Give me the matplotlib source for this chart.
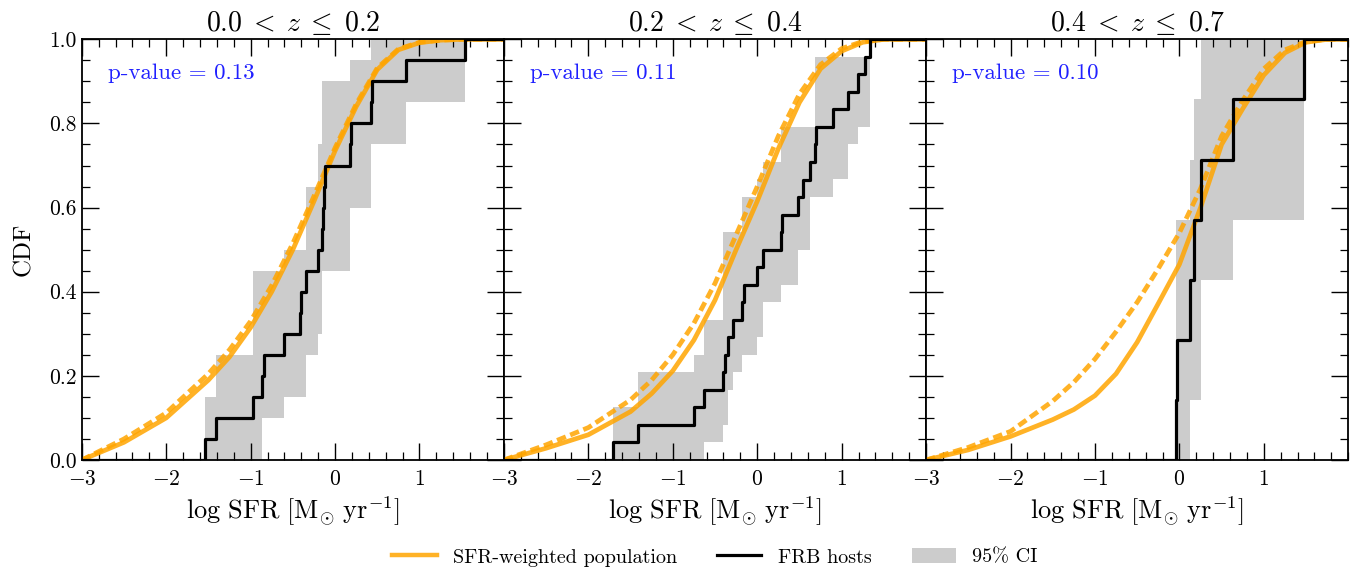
import numpy as np
import matplotlib
matplotlib.use("Agg")
import matplotlib.pyplot as plt
from matplotlib.lines import Line2D
from matplotlib.patches import Patch
from matplotlib.ticker import MultipleLocator

plt.rcParams['font.family'] = 'serif'
plt.rcParams['font.serif'] = ['cmr10', 'DejaVu Serif']
plt.rcParams['mathtext.fontset'] = 'cm'
plt.rcParams['axes.formatter.use_mathtext'] = True

# redshift bins
titles = [r'$0.0\;<\;z\;\leq\;0.2$', r'$0.2\;<\;z\;\leq\;0.4$', r'$0.4\;<\;z\;\leq\;0.7$']
pvalues = ['0.13', '0.11', '0.10']

# FRB host log SFR (sorted)
hosts1 = [-1.535, -1.41, -0.97, -0.866, -0.84, -0.61, -0.413, -0.40, -0.34, -0.206,
          -0.16, -0.14, -0.13, -0.12, 0.18, 0.19, 0.43, 0.44, 0.84, 1.535]
hosts2 = [-1.71, -1.41, -0.745, -0.63, -0.41, -0.385, -0.345, -0.285, -0.185, -0.155,
          -0.005, 0.07, 0.285, 0.29, 0.485, 0.54, 0.625, 0.685, 0.695, 0.90,
          1.075, 1.19, 1.28, 1.34]
hosts3 = [-0.04, -0.03, 0.12, 0.175, 0.25, 0.64, 1.475]

# 95% CI band (value after each host)
ci_lo1 = [0, 0, 0, .10, .10, .15, .15, .15, .25, .30, .45, .45, .45, .45, .60, .60, .75, .75, .85, 1.0]
ci_hi1 = [.15, .25, .45, .45, .45, .50, .50, .50, .65, .75, .90, .90, .90, .90, .95, .95, 1.0, 1.0, 1.0, 1.0]
ci_lo2 = [0, 0, 0, .042, .083, .083, .167, .208, .25, .25, .292, .375, .417, .417, .50, .50,
          .625, .625, .625, .667, .75, .792, .792, 1.0]
ci_hi2 = [.125, .208, .25, .333, .542, .542, .542, .542, .625, .625, .667, .708, .792, .792,
          .792, .792, .792, .958, .958, .958, .958, .958, .958, 1.0]
ci_lo3 = [0, 0, .143, .143, .429, .571, 1.0]
ci_hi3 = [.571, .571, .714, .857, 1.0, 1.0, 1.0]

# SFR-weighted population CDFs
sfr_grid = [-3, -2.5, -2, -1.5, -1.25, -1, -0.75, -0.5, -0.25, 0, 0.25, 0.5, 0.75, 1.0, 1.25, 1.5, 1.75, 2.0]
pop_solid1 = [0, .042, .10, .19, .245, .315, .40, .50, .615, .735, .84, .928, .975, .992, .998, 1, 1, 1]
pop_dash1 = [0, .05, .112, .205, .262, .33, .415, .515, .627, .742, .846, .932, .977, .993, .998, 1, 1, 1]
pop_solid2 = [0, .028, .06, .115, .158, .212, .285, .38, .50, .615, .74, .85, .93, .972, .993, 1, 1, 1]
pop_dash2 = [0, .036, .077, .143, .19, .25, .325, .42, .535, .65, .77, .87, .94, .978, .995, 1, 1, 1]
pop_solid3 = [0, .024, .056, .096, .12, .153, .205, .28, .372, .465, .60, .75, .835, .915, .968, .993, 1, 1]
pop_dash3 = [0, .03, .068, .14, .185, .24, .305, .375, .455, .54, .645, .77, .855, .93, .975, .995, 1, 1]

panels = [
    (hosts1, ci_lo1, ci_hi1, pop_solid1, pop_dash1),
    (hosts2, ci_lo2, ci_hi2, pop_solid2, pop_dash2),
    (hosts3, ci_lo3, ci_hi3, pop_solid3, pop_dash3),
]

fig, axes = plt.subplots(1, 3, figsize=(13.67, 5.70), dpi=100, sharey=True)
fig.subplots_adjust(left=0.0598, right=0.9863, bottom=0.193, top=0.931, wspace=0)

orange = 'orange'
for i, ax in enumerate(axes):
    hosts, lo, hi, solid, dash = panels[i]
    n = len(hosts)
    xb = np.append(hosts, 2.0)
    ax.fill_between(xb, np.append(lo, lo[-1]), np.append(hi, hi[-1]), step='post',
                    color='gray', alpha=0.4, lw=0, zorder=1)
    ax.plot(sfr_grid, solid, color=orange, lw=3.4, alpha=0.85, zorder=2)
    ax.plot(sfr_grid, dash, color=orange, lw=3.4, alpha=0.85, ls=(0, (2, 1)), zorder=2)
    xs = np.concatenate([[-3], hosts, [2]])
    ys = np.concatenate([[0], np.arange(1, n + 1) / n, [1]])
    ax.step(xs, ys, where='post', color='black', lw=2.3, zorder=3)

    ax.set_xlim(-3, 2)
    ax.set_ylim(0, 1)
    ax.set_xticks([-3, -2, -1, 0, 1])
    ax.xaxis.set_minor_locator(MultipleLocator(0.2))
    ax.yaxis.set_minor_locator(MultipleLocator(0.05))
    ax.tick_params(which='both', direction='in', top=True, right=True, labelsize=15.5)
    ax.tick_params(which='major', length=12, width=1.0)
    ax.tick_params(which='minor', length=5.5, width=0.9)
    ax.tick_params(axis='x', which='major', pad=7)
    for sp in ax.spines.values():
        sp.set_linewidth(1.3)
    ax.set_title(titles[i], fontsize=20, pad=6)
    ax.set_xlabel(r'$\log\,{\rm SFR}\ [{\rm M}_{\odot}\ {\rm yr}^{-1}]$', fontsize=19, labelpad=4)
    ax.text(0.062, 0.92, 'p-value = ' + pvalues[i], transform=ax.transAxes,
            color='#2020ff', fontsize=16.5, va='center', ha='left')

axes[0].set_ylabel('CDF', fontsize=18, labelpad=10)
axes[0].set_yticks([0, 0.2, 0.4, 0.6, 0.8, 1.0])
axes[0].yaxis.set_major_formatter(matplotlib.ticker.FormatStrFormatter('%.1f'))

handles = [Line2D([], [], color=orange, lw=3.2, alpha=0.85),
           Line2D([], [], color='black', lw=2.3),
           Patch(facecolor='gray', alpha=0.4, lw=0)]
labels = ['SFR-weighted population', 'FRB hosts', '95% CI']
fig.legend(handles, labels, loc='center', bbox_to_anchor=(0.523, 0.022), ncol=3,
           frameon=False, fontsize=14.5, handlelength=2.2, handletextpad=0.8, columnspacing=2.0)

fig.savefig('out.png', dpi=100)
